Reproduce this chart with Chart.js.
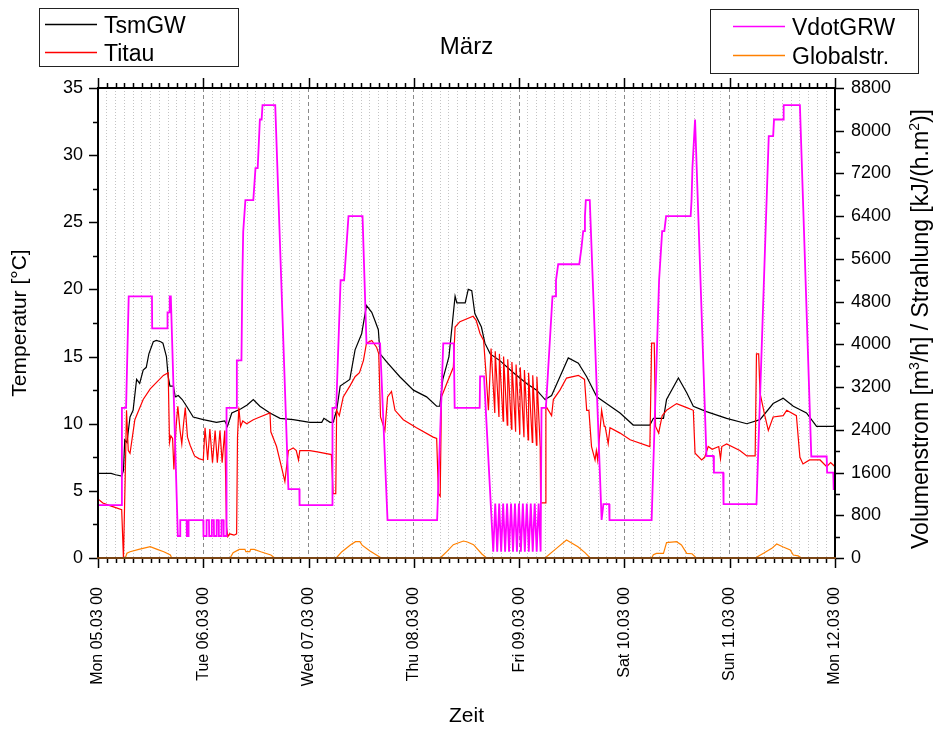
<!DOCTYPE html>
<html>
<head>
<meta charset="utf-8">
<script src="https://cdn.jsdelivr.net/npm/chart.js@4/dist/chart.umd.min.js"></script>
<style>
  html, body { margin: 0; padding: 0; background: #fff; }
  canvas { display: block; }
</style>
</head>
<body>
<canvas id="chart" width="936" height="729"></canvas>
<script>
// hours since Mon 05.03 00:00 -> value
const dayLabels = ['Mon 05.03 00', 'Tue 06.03 00', 'Wed 07.03 00', 'Thu 08.03 00',
  'Fri 09.03 00', 'Sat 10.03 00', 'Sun 11.03 00', 'Mon 12.03 00'];
const tempTicks = [0, 5, 10, 15, 20, 25, 30, 35];
const flowTicks = [0, 800, 1600, 2400, 3200, 4000, 4800, 5600, 6400, 7200, 8000, 8800];

// TsmGW [°C]
const tsmgw = [[0,6.3],[3,6.3],[4,6.2],[5.4,6.1],[5.8,6.5],[6.1,8.8],[6.6,8.6],[7.3,10.5],[8.0,11.0],
  [8.8,13.3],[9.5,13.0],[10.3,14.0],[11.0,14.2],[11.6,15.2],[12.6,16.1],[13.3,16.2],[14.3,16.1],[14.8,16.0],
  [15.6,15.0],[16.0,13.5],[16.4,12.8],[17.2,12.8],[17.6,12.0],[18.3,12.1],[19.2,11.8],[20.2,11.3],[21.7,10.5],
  [24.0,10.3],[27.0,10.1],[28.9,10.2],[29.5,9.8],[30.5,10.8],[32.5,11.1],[34.0,11.4],[35.4,11.8],[36.9,11.3],
  [39.2,10.8],[41.5,10.4],[44.5,10.3],[48.3,10.1],[51.0,10.1],[51.5,10.4],[52.9,10.1],[53.6,10.1],[54.4,11.0],
  [55.2,12.8],[57.4,13.3],[58.6,15.5],[60.1,16.7],[61.2,18.8],[62.4,18.3],[63.1,17.7],[63.9,17.0],[64.3,15.2],
  [65.8,14.6],[68.8,13.5],[71.9,12.5],[74.9,12.0],[77.2,11.3],[77.9,11.3],[78.6,13.3],[80.0,15.0],[81.4,19.5],
  [81.8,19.0],[83.7,19.0],[84.4,20.0],[85.2,19.9],[85.9,18.2],[87.4,17.2],[88.2,16.0],[89.4,15.2],[91.6,14.7],
  [94.7,13.8],[97.7,13.0],[100.0,12.5],[101.9,11.8],[103.4,12.1],[105.3,13.5],[107.2,14.9],[109.5,14.5],
  [111.4,13.5],[113.7,12.0],[115.9,11.5],[119.0,10.8],[122.0,9.9],[125.8,9.9],[126.6,10.4],[128.9,10.4],
  [129.6,11.8],[132.3,13.4],[134.2,12.3],[135.7,11.3],[138.7,10.9],[143.3,10.4],[147.9,10.0],[150.9,10.3],
  [153.9,11.5],[156.2,11.9],[158.5,11.3],[161.5,10.8],[163.8,9.8],[167.6,9.8],[168,9.9]];

// Titau [°C]
const titau = [[0,4.4],[1.1,4.1],[2.7,3.9],[5.4,3.6],[5.8,0],[6.2,6.0],[6.5,11.0],[6.9,8.0],[7.3,7.8],
  [8.4,10.3],[10.3,11.8],[11.9,12.6],[13.4,13.1],[14.9,13.6],[16.0,13.8],[16.3,8.6],[16.6,9.1],[17.0,8.9],
  [17.3,6.6],[17.8,9.8],[18.2,11.3],[18.7,9.5],[19.1,8.5],[19.5,10.0],[19.9,11.2],[20.4,9.0],[21.0,8.4],
  [22.0,7.6],[23.0,7.4],[24.0,7.3],[24.4,9.7],[25.0,7.3],[25.5,9.6],[26.1,7.1],[26.7,9.5],[27.2,7.1],
  [27.8,9.5],[28.3,7.1],[28.9,9.5],[29.3,2.3],[29.6,1.6],[30.0,1.8],[31.0,1.7],[31.6,1.8],[31.8,9.0],
  [32.1,11.2],[32.5,9.8],[33.0,10.2],[33.9,10.0],[35.4,10.3],[36.9,10.5],[39.2,10.8],[39.4,9.4],[40.7,8.3],
  [41.8,6.8],[42.6,5.7],[43.4,8.0],[44.5,8.2],[45.2,8.0],[45.7,7.3],[46.0,8.0],[48.3,8.0],[50.0,7.9],
  [53.2,7.7],[53.6,4.8],[54.2,4.8],[54.4,11.0],[55.0,10.6],[55.9,12.0],[57.4,12.8],[58.6,13.5],[59.6,13.8],
  [60.5,14.7],[61.2,16.0],[62.4,16.2],[63.5,15.7],[64.0,15.2],[64.4,10.5],[65.4,9.5],[66.0,12.0],[66.9,12.4],
  [67.7,11.0],[69.6,10.3],[72.6,9.7],[76.4,9.0],[77.2,8.9],[77.6,4.8],[78.0,4.6],[78.3,12.0],[79.5,13.0],
  [81.0,14.2],[81.4,17.2],[82.5,17.6],[85.5,18.0],[86.2,17.7],[87.1,16.7],[87.9,16.2],[88.5,13.5],[89.0,11.0],
  [89.6,15.6],[90.45,10.8],[90.55,15.4],[91.4,10.5],[91.5,15.2],[92.35,10.2],[92.45,15.0],[93.3,9.9],
  [93.4,14.8],[94.25,9.6],[94.35,14.6],[95.2,9.4],[95.3,14.4],[96.15,9.2],[96.25,14.2],[97.1,9.0],
  [97.2,14.0],[98.05,8.8],[98.15,13.8],[99.0,8.6],[99.1,13.6],[99.95,8.4],[100.05,13.5],[100.8,8.3],
  [100.9,4.1],[101.9,4.1],[102.1,11.3],[103.4,10.6],[103.8,11.8],[105.3,12.5],[106.8,13.4],[109.5,13.6],
  [110.9,13.3],[111.4,11.0],[111.9,11.0],[112.5,8.3],[113.3,7.3],[113.6,8.0],[113.9,7.3],[114.8,11.0],
  [115.4,9.8],[115.6,9.8],[116.3,8.5],[116.7,9.7],[119.0,9.3],[121.3,8.8],[125.8,8.3],[126.2,16.0],
  [126.8,16.0],[127.1,9.8],[127.8,9.3],[128.6,10.6],[129.6,11.0],[131.9,11.5],[134.2,11.2],[135.7,11.0],
  [136.1,7.8],[137.6,7.3],[138.3,7.5],[139.1,8.3],[140.0,8.1],[141.5,8.3],[141.9,7.4],[142.2,8.3],[143.3,8.5],
  [146.3,8.0],[147.9,7.6],[149.8,7.6],[150.1,15.2],[150.6,15.2],[150.9,12.3],[152.0,10.6],[152.8,9.5],
  [153.9,10.5],[156.2,10.6],[157.0,11.0],[159.2,10.6],[160.0,7.5],[160.7,7.0],[162.2,7.3],[164.6,7.3],
  [166.1,6.8],[167.0,7.1],[168,6.8]];

// VdotGRW [m3/h]
const vdotgrw = [[0,990],[5.4,990],[5.45,2810],[6.4,2810],[7.0,4900],[12.3,4900],[12.35,4300],[15.8,4300],
  [15.85,4600],[16.3,4600],[16.35,4900],[16.6,4900],[18.2,412],[18.7,412],[18.75,711],[20.2,711],[20.25,412],
  [20.6,412],[20.65,711],[24.0,711],[24.05,412],[24.7,412],[24.75,711],[25.3,711],[25.35,412],[25.9,412],
  [25.95,711],[26.4,711],[26.45,412],[27.0,412],[27.05,711],[27.5,711],[27.55,412],[28.1,412],[28.15,711],
  [28.6,711],[28.65,412],[29.2,412],[29.3,2810],[31.6,2810],[31.65,3700],[32.7,3700],[32.9,5200],[33.1,6110],
  [33.6,6700],[35.4,6700],[35.9,7300],[36.4,7300],[36.9,8210],[37.3,8210],[37.5,8480],[40.4,8480],[43.4,1290],
  [45.9,1290],[45.95,990],[53.4,990],[53.45,2810],[54.3,2810],[55.3,5200],[56.1,5200],[57.1,6400],[60.3,6400],
  [61.2,4020],[64.3,4020],[66.0,711],[77.3,711],[78.7,4020],[81.1,4020],[81.3,2810],[87.0,2810],[87.1,3400],
  [88.0,3400],[90.1,120],[90.55,1020],[91.0,120],[91.45,1020],[91.9,120],[92.35,1020],[92.8,120],[93.25,1020],
  [93.7,120],[94.15,1020],[94.6,120],[95.05,1020],[95.5,120],[95.95,1020],[96.4,120],[96.85,1020],[97.3,120],
  [97.75,1020],[98.2,120],[98.65,1020],[99.1,120],[99.55,1020],[100.0,120],[100.45,1020],[100.9,120],
  [101.1,2810],[102.1,2810],[103.6,4900],[104.3,4900],[104.4,5200],[104.9,5500],[109.7,5500],[110.2,5800],
  [110.6,6120],[110.9,6120],[111.0,6400],[111.2,6700],[112.1,6700],[114.8,711],[115.2,1010],[116.5,1010],
  [116.6,711],[126.2,711],[127.9,5200],[128.6,6120],[129.1,6120],[129.5,6400],[135.1,6400],[135.3,6700],
  [135.5,7300],[136.1,8210],[138.7,1910],[140.3,1910],[140.4,1600],[142.5,1600],[142.6,1010],[150.1,1010],
  [152.9,7900],[153.9,7900],[154.1,8210],[156.2,8210],[156.3,8480],[160.0,8480],[162.6,1900],[166.1,1900],
  [166.2,1600],[167.6,1600],[167.7,1290],[168,1290]];

// Globalstr. [kJ/(h.m2)]
const globalstr = [[0,0],[6.2,0],[6.6,90],[7.3,118],[9.3,162],[11.9,212],[13.5,162],[15.0,118],[16.5,56],
  [16.8,0],[30.1,0],[30.8,100],[32.2,162],[33.5,162],[33.7,118],[34.6,118],[34.8,162],[35.6,162],[37.1,118],
  [39.4,56],[40.3,0],[54.3,0],[55.6,118],[57.6,249],[58.7,305],[59.7,305],[60.2,240],[62.0,131],[63.1,75],
  [64.6,0],[78.0,0],[79.5,118],[81.0,249],[83.3,318],[84.2,300],[85.6,249],[87.5,75],[88.6,0],[101.9,0],
  [104.5,181],[106.8,337],[109.4,212],[111.0,100],[112.2,0],[126.2,0],[126.6,60],[127.3,87],[128.9,87],
  [129.6,287],[131.9,305],[133.0,243],[134.2,87],[135.4,80],[136.4,0],[149.8,0],[151.7,87],[153.6,181],
  [154.7,262],[156.2,206],[157.8,150],[158.5,56],[159.6,40],[160.4,0],[168,0]];

const FONT = 'Liberation Sans, Arial, sans-serif';
const toXY = arr => arr.map(([x, y]) => ({ x, y }));

// right axis title with real superscripts
const rightTitle = [['Volumenstrom [m', false], ['3', true], ['/h] / Strahlung [kJ/(h.m', false], ['2', true], [')]', false]];

const frameAndText = {
  id: 'frameAndText',
  afterDraw(chart) {
    const { ctx, chartArea: { left, right, top, bottom }, scales: { x, y, y1 } } = chart;
    ctx.save();

    // tick marks, outside the frame
    ctx.strokeStyle = '#000';
    ctx.lineWidth = 1.5;
    ctx.beginPath();
    for (let h = 0; h <= 168; h += 2) {
      const px = Math.round(x.getPixelForValue(h)) + 0.5;
      const len = h % 24 === 0 ? 10 : 5;
      ctx.moveTo(px, bottom); ctx.lineTo(px, bottom + len);
      ctx.moveTo(px, top); ctx.lineTo(px, top - len);
    }
    for (let v = 0; v <= 35; v += 2.5) {
      const py = Math.round(y.getPixelForValue(v)) + 0.5;
      ctx.moveTo(left, py); ctx.lineTo(left - (v % 5 === 0 ? 9 : 5), py);
    }
    for (let v = 0; v <= 8800; v += 400) {
      const py = Math.round(y1.getPixelForValue(v)) + 0.5;
      ctx.moveTo(right, py); ctx.lineTo(right + (v % 800 === 0 ? 9 : 5), py);
    }
    ctx.stroke();

    // frame
    ctx.lineWidth = 2;
    ctx.strokeStyle = '#000';
    ctx.beginPath();
    ctx.moveTo(left, bottom); ctx.lineTo(left, top); ctx.lineTo(right, top); ctx.lineTo(right, bottom);
    ctx.stroke();
    ctx.strokeStyle = '#7a4514';
    ctx.beginPath();
    ctx.moveTo(left - 1, bottom); ctx.lineTo(right + 1, bottom);
    ctx.stroke();

    // title
    ctx.fillStyle = '#000';
    ctx.font = '24px ' + FONT;
    ctx.textAlign = 'center';
    ctx.textBaseline = 'alphabetic';
    ctx.fillText('März', (left + right) / 2, 54);

    // right axis title
    ctx.save();
    ctx.translate(928, 329);
    ctx.rotate(-Math.PI / 2);
    ctx.textAlign = 'left';
    const mainFont = '23px ' + FONT;
    const supFont = '14px ' + FONT;
    let total = 0;
    rightTitle.forEach(([t, sup]) => { ctx.font = sup ? supFont : mainFont; total += ctx.measureText(t).width; });
    let cx = -total / 2;
    rightTitle.forEach(([t, sup]) => {
      ctx.font = sup ? supFont : mainFont;
      ctx.fillText(t, cx, sup ? -9 : 0);
      cx += ctx.measureText(t).width;
    });
    ctx.restore();

    // legend boxes
    const box = (bx, by, bw, bh, rows) => {
      ctx.lineWidth = 1;
      ctx.strokeStyle = '#222';
      ctx.strokeRect(bx + 0.5, by + 0.5, bw, bh);
      rows.forEach(([label, color, ly, lx0, lx1]) => {
        ctx.strokeStyle = color;
        ctx.lineWidth = 1.3;
        ctx.beginPath();
        ctx.moveTo(lx0, ly); ctx.lineTo(lx1, ly);
        ctx.stroke();
        ctx.fillStyle = '#000';
        ctx.font = '23px ' + FONT;
        ctx.textAlign = 'left';
        ctx.textBaseline = 'alphabetic';
        ctx.fillText(label, lx1 + 7, ly + 8);
      });
    };
    box(39, 8, 199, 58, [['TsmGW', '#000', 24.5, 45, 97], ['Titau', '#ff0000', 52.5, 45, 97]]);
    box(710, 9, 208, 64, [['VdotGRW', '#ff00ff', 26.5, 733, 785], ['Globalstr.', '#ff8000', 55.5, 733, 785]]);

    ctx.restore();
  }
};

new Chart(document.getElementById('chart'), {
  type: 'line',
  data: {
    datasets: [
      { label: 'VdotGRW', data: toXY(vdotgrw), yAxisID: 'y1', borderColor: '#ff00ff', borderWidth: 1.8, order: 1 },
      { label: 'Titau', data: toXY(titau), yAxisID: 'y', borderColor: '#ff0000', borderWidth: 1.2, order: 2 },
      { label: 'TsmGW', data: toXY(tsmgw), yAxisID: 'y', borderColor: '#000000', borderWidth: 1.2, order: 3 },
      { label: 'Globalstr.', data: toXY(globalstr), yAxisID: 'y1', borderColor: '#ff8000', borderWidth: 1.2, order: 4 },
    ],
  },
  options: {
    responsive: false,
    animation: false,
    events: [],
    layout: { padding: { top: 88, left: 0, right: 0, bottom: 0 } },
    elements: { point: { radius: 0 }, line: { tension: 0, fill: false } },
    plugins: { legend: { display: false }, title: { display: false }, tooltip: { enabled: false } },
    scales: {
      x: {
        type: 'linear',
        min: 0,
        max: 168,
        afterFit: s => { s.height = 171; },
        border: {
          display: false,
          dash: ctx => (ctx.tick && ctx.tick.value % 24 === 0 ? [4, 3] : [1, 2]),
        },
        grid: {
          drawTicks: false,
          lineWidth: 1,
          color: ctx => (ctx.tick && ctx.tick.value % 24 === 0 ? '#8a8a8a' : '#c4c4c4'),
        },
        ticks: {
          stepSize: 2,
          autoSkip: false,
          minRotation: 90,
          maxRotation: 90,
          padding: 29,
          color: '#000',
          font: { family: FONT, size: 16 },
          callback: v => (v % 24 === 0 ? dayLabels[v / 24] : ''),
        },
        title: { display: true, text: 'Zeit', color: '#000', font: { family: FONT, size: 21 }, padding: { top: 0, bottom: 0 } },
      },
      y: {
        position: 'left',
        min: 0,
        max: 35,
        afterFit: s => { s.width = 98; },
        afterBuildTicks: s => { s.ticks = tempTicks.map(value => ({ value })); },
        border: { display: false },
        grid: { drawOnChartArea: false, drawTicks: false },
        ticks: { padding: 15, color: '#000', font: { family: FONT, size: 18 }, callback: v => String(v) },
        title: { display: true, text: 'Temperatur [°C]', color: '#000', font: { family: FONT, size: 21 }, padding: { top: 8, bottom: 0 } },
      },
      y1: {
        position: 'right',
        min: 0,
        max: 8800,
        afterFit: s => { s.width = 101; },
        afterBuildTicks: s => { s.ticks = flowTicks.map(value => ({ value })); },
        border: { display: false },
        grid: { drawOnChartArea: false, drawTicks: false },
        ticks: { padding: 16, color: '#000', font: { family: FONT, size: 18 }, callback: v => String(v) },
      },
    },
  },
  plugins: [frameAndText],
});
</script>
</body>
</html>
